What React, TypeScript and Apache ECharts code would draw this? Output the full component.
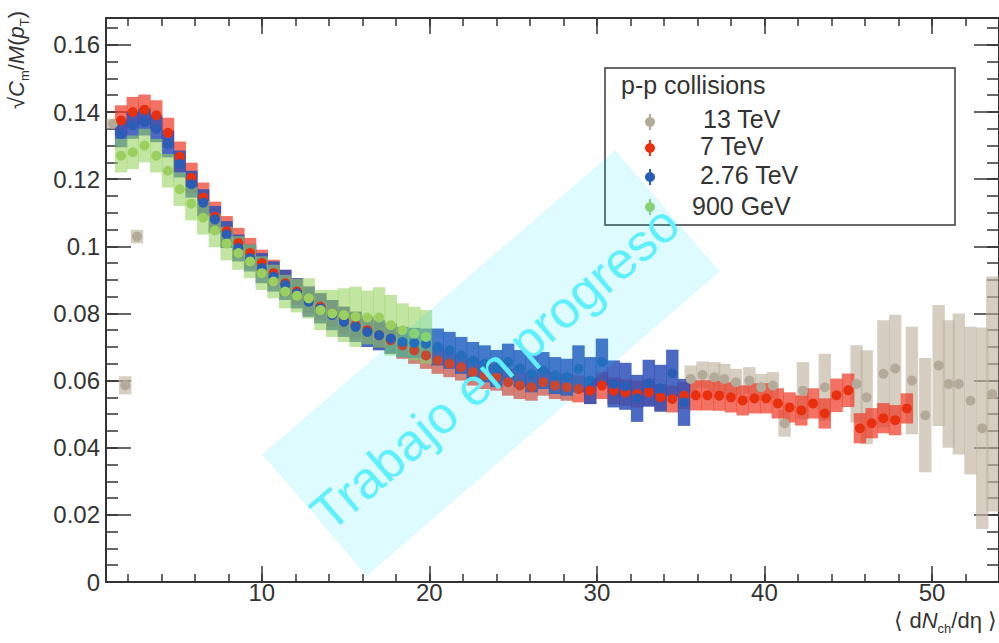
import React, { useEffect, useRef } from "react";
import * as echarts from "echarts";

// ---------------- data ----------------
const redX = [1.6, 2.3, 3.0, 3.7, 4.4, 5.1, 5.8, 6.5, 7.2, 7.9, 8.6, 9.3, 10.0, 10.7, 11.4, 12.1, 12.8, 13.5, 14.2, 14.9, 15.6, 16.3, 17.0, 17.7, 18.4, 19.1, 19.8, 20.5, 21.2, 21.9, 22.6, 23.3, 24.0, 24.7, 25.4, 26.1, 26.8, 27.5, 28.2, 28.9, 29.6, 30.3, 31.0, 31.7, 32.4, 33.1, 33.8, 34.5, 35.2, 35.9, 36.6, 37.3, 38.0, 38.7, 39.4, 40.1, 40.8, 41.5, 42.2, 42.9, 43.6, 44.3, 45.0, 45.7, 46.4, 47.1, 47.8, 48.5];
const redY = [0.1375, 0.140, 0.1407, 0.139, 0.1338, 0.1267, 0.1204, 0.1145, 0.1088, 0.1045, 0.101, 0.098, 0.095, 0.092, 0.089, 0.0865, 0.084, 0.082, 0.080, 0.078, 0.0765, 0.075, 0.0735, 0.072, 0.0705, 0.069, 0.0675, 0.066, 0.065, 0.064, 0.0625, 0.0615, 0.061, 0.0595, 0.0585, 0.058, 0.0595, 0.0585, 0.058, 0.0575, 0.057, 0.0585, 0.057, 0.0565, 0.056, 0.0565, 0.055, 0.0545, 0.0555, 0.0556, 0.0556, 0.0555, 0.055, 0.0541, 0.0547, 0.0547, 0.0532, 0.052, 0.0511, 0.0532, 0.0502, 0.0556, 0.0571, 0.0458, 0.0473, 0.0488, 0.0482, 0.0517];
const redErr = [0.0045, 0.0045, 0.0045, 0.0045, 0.0045, 0.0045, 0.0045, 0.0045, 0.0045, 0.0045, 0.0045, 0.0045, 0.004, 0.004, 0.004, 0.004, 0.004, 0.004, 0.004, 0.004, 0.004, 0.004, 0.004, 0.004, 0.004, 0.004, 0.004, 0.004, 0.004, 0.004, 0.004, 0.004, 0.004, 0.004, 0.004, 0.004, 0.004, 0.004, 0.004, 0.004, 0.004, 0.004, 0.004, 0.004, 0.004, 0.004, 0.004, 0.004, 0.004, 0.0045, 0.0045, 0.0045, 0.0045, 0.0045, 0.0045, 0.0045, 0.0045, 0.0045, 0.0045, 0.0045, 0.0045, 0.005, 0.005, 0.0045, 0.0045, 0.0045, 0.0045, 0.0045];

const blueX = [1.6, 2.3, 3.0, 3.7, 4.4, 5.1, 5.8, 6.5, 7.2, 7.9, 8.6, 9.3, 10.0, 10.7, 11.4, 12.1, 12.8, 13.5, 14.2, 14.9, 15.6, 16.3, 17.0, 17.7, 18.4, 19.1, 19.8, 20.5, 21.2, 21.9, 22.6, 23.3, 24.0, 24.7, 25.4, 26.1, 26.8, 27.5, 28.2, 28.9, 29.6, 30.3, 31.0, 31.7, 32.4, 33.1, 33.8, 34.5, 35.2];
const blueY = [0.1335, 0.136, 0.137, 0.135, 0.1305, 0.1245, 0.1185, 0.113, 0.108, 0.1035, 0.0995, 0.0965, 0.0935, 0.091, 0.0885, 0.086, 0.0835, 0.0815, 0.0795, 0.0775, 0.076, 0.0745, 0.0735, 0.0725, 0.0715, 0.0712, 0.071, 0.070, 0.069, 0.0675, 0.066, 0.065, 0.0636, 0.0655, 0.0636, 0.062, 0.063, 0.0615, 0.061, 0.0635, 0.060, 0.0655, 0.059, 0.0583, 0.0547, 0.0592, 0.0577, 0.0622, 0.0535];
const blueErr = [0.004, 0.004, 0.004, 0.004, 0.004, 0.004, 0.004, 0.004, 0.004, 0.004, 0.004, 0.004, 0.0045, 0.0045, 0.0045, 0.0045, 0.0045, 0.0045, 0.0045, 0.0045, 0.0045, 0.0045, 0.0045, 0.0045, 0.0045, 0.0045, 0.0045, 0.0055, 0.0055, 0.0055, 0.0055, 0.0055, 0.0055, 0.0055, 0.0055, 0.0055, 0.0055, 0.0055, 0.0055, 0.007, 0.007, 0.007, 0.007, 0.007, 0.007, 0.007, 0.007, 0.007, 0.007];

const greenX = [1.6, 2.3, 3.0, 3.7, 4.4, 5.1, 5.8, 6.5, 7.2, 7.9, 8.6, 9.3, 10.0, 10.7, 11.4, 12.1, 12.8, 13.5, 14.2, 14.9, 15.6, 16.3, 17.0, 17.7, 18.4, 19.1, 19.8];
const greenY = [0.127, 0.128, 0.130, 0.127, 0.1225, 0.117, 0.1127, 0.1085, 0.1047, 0.1008, 0.098, 0.0955, 0.092, 0.0895, 0.0865, 0.0853, 0.0845, 0.081, 0.080, 0.0795, 0.079, 0.0788, 0.0788, 0.0765, 0.075, 0.074, 0.073];
const greenErr = [0.005, 0.005, 0.005, 0.005, 0.005, 0.005, 0.005, 0.005, 0.005, 0.005, 0.005, 0.005, 0.005, 0.005, 0.005, 0.005, 0.006, 0.006, 0.007, 0.008, 0.009, 0.008, 0.009, 0.009, 0.008, 0.008, 0.008];

const greyX = [1.1, 1.85, 2.55, 35.6, 36.3, 37.0, 37.6, 38.3, 39.1, 39.8, 40.5, 41.2, 42.3, 43.6, 45.5, 46.1, 47.1, 47.8, 48.8, 49.6, 50.4, 51.0, 51.6, 52.3, 53.0, 53.6];
const greyY = [0.1365, 0.0586, 0.1029, 0.0605, 0.0617, 0.061, 0.0605, 0.0595, 0.060, 0.058, 0.0585, 0.0473, 0.057, 0.058, 0.059, 0.055, 0.062, 0.0636, 0.060, 0.0497, 0.0645, 0.059, 0.059, 0.054, 0.0458, 0.056];
const greyErr = [0.0015, 0.0027, 0.002, 0.004, 0.004, 0.0045, 0.0045, 0.004, 0.004, 0.004, 0.004, 0.004, 0.0085, 0.010, 0.0115, 0.014, 0.016, 0.016, 0.016, 0.017, 0.018, 0.019, 0.021, 0.022, 0.030, 0.035];

const legendLabels = ["13 TeV", "7 TeV", "2.76 TeV", "900 GeV"];
const legendTitle = "p-p collisions";
const watermark = "Trabajo en progreso";

// ---------------- style ----------------
const FONT = "Liberation Sans, Arial, Helvetica, sans-serif";
const INK = "#333";
const X_MIN = 0.7;
const X_MAX = 54;
const Y_MIN = 0;
const Y_MAX = 0.168;
const BOX_W = 0.74;

const colors = {
  grey: { box: "rgba(190,180,160,0.65)", dot: "#b3aa9a" },
  red: { box: "rgba(238,60,40,0.72)", dot: "#e8300f" },
  blue: { box: "rgba(45,80,185,0.85)", dot: "#2a5db5" },
  green: { box: "rgba(150,210,95,0.58)", dot: "#9bd060" },
};

function pack(xs: number[], ys: number[], es: number[]) {
  return xs.map((x, i) => [x, ys[i], es[i]]);
}

function boxSeries(name: string, data: number[][], fill: string) {
  return {
    type: "custom",
    name,
    data,
    xAxisIndex: 0,
    yAxisIndex: 0,
    silent: true,
    encode: { x: 0, y: 1 },
    renderItem: (params: any, api: any) => {
      const x = api.value(0);
      const y = api.value(1);
      const e = api.value(2);
      const p1 = api.coord([x - BOX_W / 2, y + e]);
      const p2 = api.coord([x + BOX_W / 2, y - e]);
      const cs = params.coordSys;
      const shape = echarts.graphic.clipRectByRect(
        { x: p1[0], y: p1[1], width: p2[0] - p1[0], height: p2[1] - p1[1] },
        { x: cs.x, y: cs.y, width: cs.width, height: cs.height }
      );
      return shape ? { type: "rect", shape, style: { fill } } : null;
    },
  };
}

function dotSeries(name: string, data: number[][], color: string) {
  return {
    type: "scatter",
    name,
    silent: true,
    xAxisIndex: 0,
    yAxisIndex: 0,
    symbol: "circle",
    symbolSize: 10,
    itemStyle: { color, opacity: 1 },
    data: data.map((d) => [d[0], d[1]]),
  };
}

function xAxisDef(position: string, step: number, len: number, labels: boolean, line: boolean) {
  return {
    type: "value",
    position,
    min: X_MIN,
    max: X_MAX,
    minInterval: step,
    maxInterval: step,
    axisLine: { show: line, onZero: false, lineStyle: { color: INK, width: 2 } },
    axisTick: { show: true, inside: true, length: len, lineStyle: { color: INK, width: 1.5 } },
    axisLabel: {
      show: labels,
      fontSize: 24,
      color: INK,
      fontFamily: FONT,
      margin: 0,
      lineHeight: 20,
      showMinLabel: false,
      showMaxLabel: false,
    },
    splitLine: { show: false },
  };
}

function yAxisDef(position: string, step: number, len: number, labels: boolean, line: boolean) {
  return {
    type: "value",
    position,
    min: Y_MIN,
    max: Y_MAX,
    interval: step,
    axisLine: { show: line, onZero: false, lineStyle: { color: INK, width: 2 } },
    axisTick: { show: true, inside: true, length: len, lineStyle: { color: INK, width: 1.5 } },
    axisLabel: {
      show: labels,
      fontSize: 24,
      color: INK,
      fontFamily: FONT,
      margin: 6,
      showMinLabel: true,
      showMaxLabel: false,
    },
    splitLine: { show: false },
  };
}

export default function App() {
  const ref = useRef<HTMLDivElement>(null);

  useEffect(() => {
    if (!ref.current) return;
    const chart = echarts.init(ref.current, undefined, { renderer: "svg" });

    const grey = pack(greyX, greyY, greyErr);
    const red = pack(redX, redY, redErr);
    const blue = pack(blueX, blueY, blueErr);
    const green = pack(greenX, greenY, greenErr);

    const legendRows = [122, 148, 177, 207];
    const legendTextX = [703, 700, 700, 692];
    const legendTextY = [119, 146, 175, 206];
    const legendColors = [colors.grey.dot, colors.red.dot, colors.blue.dot, colors.green.dot];

    const legendGraphics: any[] = [
      {
        type: "rect",
        z: 50,
        shape: { x: 605, y: 68, width: 350, height: 157 },
        style: { fill: "#fff", stroke: "#3a3a3a", lineWidth: 1.5 },
      },
      {
        type: "text",
        z: 51,
        x: 621,
        y: 85,
        style: { text: legendTitle, fontSize: 25, fill: INK, fontFamily: FONT, verticalAlign: "middle" },
      },
    ];
    legendLabels.forEach((lab, i) => {
      legendGraphics.push({
        type: "line",
        z: 51,
        shape: { x1: 650, y1: legendRows[i] - 8, x2: 650, y2: legendRows[i] + 8 },
        style: { stroke: legendColors[i], lineWidth: 2 },
      });
      legendGraphics.push({
        type: "circle",
        z: 52,
        shape: { cx: 650, cy: legendRows[i], r: 5 },
        style: { fill: legendColors[i] },
      });
      legendGraphics.push({
        type: "text",
        z: 51,
        x: legendTextX[i],
        y: legendTextY[i],
        style: { text: lab, fontSize: 25, fill: INK, fontFamily: FONT, verticalAlign: "middle" },
      });
    });

    const rot = (40.8 * Math.PI) / 180;

    const option: any = {
      animation: false,
      backgroundColor: "#fff",
      grid: { left: 106, top: 18, width: 894, height: 564, containLabel: false },
      xAxis: [
        xAxisDef("bottom", 10, 16, true, true),
        xAxisDef("bottom", 2, 8, false, false),
        xAxisDef("top", 10, 16, false, true),
        xAxisDef("top", 2, 8, false, false),
      ],
      yAxis: [
        yAxisDef("left", 0.02, 25, true, true),
        yAxisDef("left", 0.005, 12, false, false),
        yAxisDef("right", 0.02, 25, false, true),
        yAxisDef("right", 0.005, 12, false, false),
      ],
      series: [
        boxSeries("13 TeV box", grey, colors.grey.box),
        dotSeries("13 TeV", grey, colors.grey.dot),
        boxSeries("7 TeV box", red, colors.red.box),
        dotSeries("7 TeV", red, colors.red.dot),
        boxSeries("2.76 TeV box", blue, colors.blue.box),
        dotSeries("2.76 TeV", blue, colors.blue.dot),
        boxSeries("900 GeV box", green, colors.green.box),
        dotSeries("900 GeV", green, colors.green.dot),
      ],
      graphic: [
        ...legendGraphics,
        {
          type: "text",
          z: 60,
          x: 16,
          y: 60,
          rotation: Math.PI / 2,
          style: {
            text: "{a|√}{i|C}{s|m}{a|/}{i|M}{a|(}{i|p}{s|T}{a|)}",
            align: "center",
            verticalAlign: "middle",
            fontFamily: FONT,
            rich: {
              a: { fontSize: 22, fill: INK, fontFamily: FONT, lineHeight: 30, verticalAlign: "middle" },
              i: { fontSize: 22, fill: INK, fontFamily: FONT, fontStyle: "italic", lineHeight: 30, verticalAlign: "middle" },
              s: { fontSize: 13, fill: INK, fontFamily: FONT, verticalAlign: "bottom" },
            },
          },
        },
        {
          type: "text",
          z: 60,
          x: 997,
          y: 620,
          style: {
            text: "{a|⟨ d}{i|N}{s|ch}{a|/dη ⟩}",
            align: "right",
            verticalAlign: "middle",
            fontFamily: FONT,
            rich: {
              a: { fontSize: 22, fill: INK, fontFamily: FONT, lineHeight: 16, verticalAlign: "middle" },
              i: { fontSize: 22, fill: INK, fontFamily: FONT, fontStyle: "italic", lineHeight: 16, verticalAlign: "middle" },
              s: { fontSize: 13, fill: INK, fontFamily: FONT, lineHeight: 30, verticalAlign: "bottom" },
            },
          },
        },
        {
          type: "rect",
          z: 100,
          x: 491,
          y: 363,
          rotation: rot,
          silent: true,
          shape: { x: -233, y: -80, width: 466, height: 160 },
          style: { fill: "rgba(0,225,255,0.13)" },
        },
        {
          type: "text",
          z: 101,
          x: 495,
          y: 368,
          rotation: rot,
          silent: true,
          style: {
            text: watermark,
            fontSize: 52,
            fill: "#5ef0ff",
            fontFamily: FONT,
            align: "center",
            verticalAlign: "middle",
          },
        },
      ],
    };

    chart.setOption(option);
    return () => chart.dispose();
  }, []);

  return (
    <div
      ref={ref}
      style={{ position: "fixed", left: 0, top: 0, width: 999, height: 643, background: "#fff" }}
    />
  );
}
